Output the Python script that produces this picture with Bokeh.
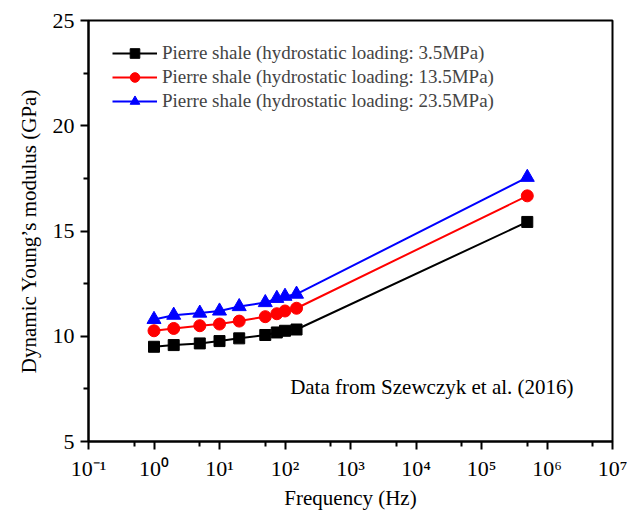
from bokeh.plotting import figure
from bokeh.models import Range1d, FixedTicker, Legend, LegendItem, Label
from bokeh.embed import file_html
from bokeh.resources import INLINE

# ---- data ----
freq = [1, 2, 5, 10, 20, 50, 75, 100, 150, 5e5]
E_3_5 = [9.50, 9.58, 9.66, 9.77, 9.90, 10.06, 10.18, 10.26, 10.32, 15.43]
E_13_5 = [10.26, 10.37, 10.50, 10.58, 10.72, 10.93, 11.07, 11.20, 11.33, 16.67]
E_23_5 = [10.80, 11.00, 11.10, 11.20, 11.41, 11.60, 11.80, 11.90, 12.00, 17.55]

series_labels = [
    "Pierre shale (hydrostatic loading: 3.5MPa)",
    "Pierre shale (hydrostatic loading: 13.5MPa)",
    "Pierre shale (hydrostatic loading: 23.5MPa)",
]

x_ticks = [1e-1, 1e0, 1e1, 1e2, 1e3, 1e4, 1e5, 1e6, 1e7]
x_tick_labels = ["10\u207b\u00b9", "10\u2070", "10\u00b9", "10\u00b2", "10\u00b3",
                 "10\u2074", "10\u2075", "10\u2076", "10\u2077"]
x_minor_ticks = [5e-1, 5e0, 5e1, 5e2, 5e3, 5e4, 5e5, 5e6]
y_ticks = [5, 10, 15, 20, 25]
y_minor_ticks = [7.5, 12.5, 17.5, 22.5]

FONT = "Liberation Serif"

p = figure(width=627, height=513, x_axis_type="log",
           x_range=Range1d(0.1, 1e7), y_range=Range1d(5, 25),
           output_backend="svg", toolbar_location=None,
           min_border_left=88, min_border_right=15,
           min_border_top=20, min_border_bottom=72)

p.grid.visible = False
p.outline_line_color = "black"
p.outline_line_width = 2
p.outline_line_alpha = 1

p.xaxis.ticker = FixedTicker(ticks=x_ticks, minor_ticks=x_minor_ticks)
p.xaxis.major_label_overrides = {t: l for t, l in zip(x_ticks, x_tick_labels)}
p.yaxis.ticker = FixedTicker(ticks=y_ticks, minor_ticks=y_minor_ticks)

for ax in (p.xaxis[0], p.yaxis[0]):
    ax.axis_line_width = 2
    ax.axis_line_color = "black"
    ax.major_tick_line_width = 2
    ax.minor_tick_line_width = 2
    ax.major_tick_in = 0
    ax.major_tick_out = 8
    ax.minor_tick_in = 0
    ax.minor_tick_out = 5
    ax.major_label_text_font = FONT
    ax.major_label_text_font_size = "22px"
    ax.major_label_text_color = "black"
    ax.axis_label_text_font = FONT
    ax.axis_label_text_font_size = "21px"
    ax.axis_label_text_font_style = "normal"
    ax.axis_label_text_color = "black"

p.xaxis.axis_label = "Frequency (Hz)"
p.yaxis.axis_label = "Dynamic Young\u2019s modulus (GPa)"
p.xaxis.major_label_standoff = 6
p.yaxis.major_label_standoff = 6
p.xaxis.axis_label_standoff = 2
p.yaxis.axis_label_standoff = 9

colors = ["black", "red", "blue"]
markers = ["square", "circle", "triangle"]
sizes = [11, 12, 14]
data = [E_3_5, E_13_5, E_23_5]

items = []
for ys, c, m, s, lab in zip(data, colors, markers, sizes, series_labels):
    ln = p.line(freq, ys, line_color=c, line_width=2)
    sc = p.scatter(freq, ys, marker=m, size=s, fill_color=c, line_color=c)
    items.append(LegendItem(label=lab, renderers=[ln, sc]))

legend = Legend(items=items, location=(24, 328))
legend.padding = 0
legend.margin = 0
legend.spacing = 0
legend.border_line_alpha = 0
legend.background_fill_alpha = 0
legend.glyph_width = 45
legend.glyph_height = 24
legend.label_height = 24
legend.label_standoff = 5
legend.label_text_font = FONT
legend.label_text_font_size = "19px"
legend.label_text_baseline = "middle"
p.add_layout(legend)

note = Label(x=2.54e6, y=7.6, text="Data from Szewczyk et al. (2016)",
             text_align="right", text_baseline="middle",
             text_font=FONT, text_font_size="21px", text_color="black")
p.add_layout(note)

open("out.html", "w").write(file_html(p, INLINE))
